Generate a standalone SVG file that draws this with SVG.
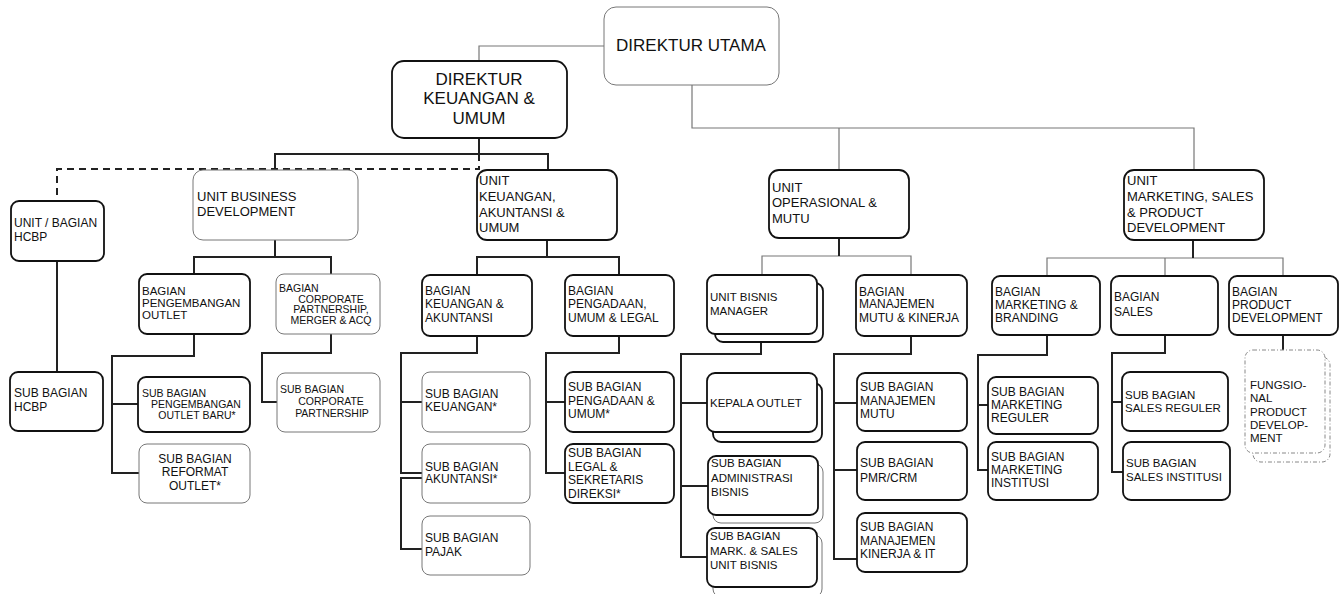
<svg xmlns="http://www.w3.org/2000/svg" width="1340" height="594" viewBox="0 0 1340 594">
<style>
text{font-family:"Liberation Sans",Arial,sans-serif;fill:#111}
.b{fill:#fff;stroke:#111;stroke-width:1.8}
.g{fill:#fff;stroke:#777;stroke-width:1}
.d{fill:#fff;stroke:#888;stroke-width:1;stroke-dasharray:4,2,1,2}
.t{fill:none;stroke:#222;stroke-width:2}
.th{fill:none;stroke:#777;stroke-width:1.2}
.ds{fill:none;stroke:#222;stroke-width:2;stroke-dasharray:7,5}
.s17{font-size:17px}.s13{font-size:13px}.s135{font-size:13.5px}.s12{font-size:12px}.s115{font-size:11.5px}.s105{font-size:10.5px}
.c{text-anchor:middle}
</style>
<rect width="1340" height="594" fill="#fff"/>
<g id="connectors">
<path class="th" d="M604,46 H479 V61"/>
<path class="th" d="M692,85 V128 H1194 V170 M839,128 V170"/>
<path class="th" d="M762,275 V256 H911 V275"/>
<path class="th" d="M1047,276 V258 H1283 V276 M1165,258 V276"/>
<path class="t" d="M479,138 V154 M275,170 V154 H548 V170"/>
<path class="ds" d="M479,154 V169 H57 V201"/>
<path class="t" d="M57,261 V372"/>
<path class="t" d="M275,240 V257 M194,274 V257 H331 V274"/>
<path class="t" d="M194,334 V356 H112 V473 H139 M112,404 H138"/>
<path class="t" d="M331,334 V353 H262 V402 H277"/>
<path class="t" d="M547,240 V257 M477,275 V257 H619 V275"/>
<path class="t" d="M477,336 V353 H401 V473 H422 M401,402 H422 M422,478 H401 V549 H422"/>
<path class="t" d="M619,336 V353 H546 V473 H565 M546,402 H565"/>
<path class="t" d="M839,238 V256"/>
<path class="t" d="M761,342 V354 H681 V557 H707 M681,403 H707 M681,486 H708"/>
<path class="t" d="M911,336 V354 H834 V559 H857 M834,403 H857 M834,470 H857"/>
<path class="t" d="M1193,240 V258"/>
<path class="t" d="M1047,335 V355 H978 V470 H988 M978,405 H988"/>
<path class="t" d="M1165,335 V353 H1112 V472 H1123 M1112,402 H1122"/>
<path class="t" d="M1283,335 V350"/>
</g>
<g id="direktur-utama"><rect class="g" x="604" y="7" width="175" height="78" rx="12"/><text class="s17 c" x="691" y="51">DIREKTUR UTAMA</text></g>
<g id="direktur-keuangan"><rect class="b" x="392" y="61" width="175" height="77" rx="12"/><text class="s17 c" x="479"><tspan x="479" y="85">DIREKTUR</tspan><tspan x="479" y="104">KEUANGAN &amp;</tspan><tspan x="479" y="124">UMUM</tspan></text></g>
<g id="hcbp"><rect class="b" x="11" y="201" width="93" height="60" rx="8"/><text class="s12"><tspan x="14" y="227">UNIT / BAGIAN</tspan><tspan x="14" y="241">HCBP</tspan></text></g>
<g id="unit-bd"><rect class="g" x="193" y="170" width="165" height="70" rx="10"/><text class="s13"><tspan x="197" y="201">UNIT BUSINESS</tspan><tspan x="197" y="216">DEVELOPMENT</tspan></text></g>
<g id="unit-keu"><rect class="b" x="477" y="170" width="140" height="70" rx="10"/><text class="s13"><tspan x="479" y="185">UNIT</tspan><tspan x="479" y="201">KEUANGAN,</tspan><tspan x="479" y="217">AKUNTANSI &amp;</tspan><tspan x="479" y="232">UMUM</tspan></text></g>
<g id="unit-ops"><rect class="b" x="769" y="170" width="140" height="68" rx="10"/><text class="s13"><tspan x="772" y="192">UNIT</tspan><tspan x="772" y="207">OPERASIONAL &amp;</tspan><tspan x="772" y="223">MUTU</tspan></text></g>
<g id="unit-mkt"><rect class="b" x="1124" y="170" width="140" height="70" rx="10"/><text class="s13"><tspan x="1127" y="185">UNIT</tspan><tspan x="1127" y="201">MARKETING, SALES</tspan><tspan x="1127" y="217">&amp; PRODUCT</tspan><tspan x="1127" y="232">DEVELOPMENT</tspan></text></g>
<g id="sub-hcbp"><rect class="b" x="10" y="372" width="93" height="59" rx="8"/><text class="s12"><tspan x="14" y="397">SUB BAGIAN</tspan><tspan x="14" y="411">HCBP</tspan></text></g>
<g id="bag-peng-outlet"><rect class="b" x="139" y="274" width="111" height="60" rx="8"/><text class="s115"><tspan x="142" y="295">BAGIAN</tspan><tspan x="142" y="307">PENGEMBANGAN</tspan><tspan x="142" y="319">OUTLET</tspan></text></g>
<g id="bag-corp"><rect class="g" x="276" y="274" width="104" height="60" rx="8"/><text class="s105"><tspan x="279" y="292">BAGIAN</tspan><tspan class="c" x="331" y="303">CORPORATE</tspan><tspan class="c" x="331" y="313">PARTNERSHIP,</tspan><tspan class="c" x="331" y="324">MERGER &amp; ACQ</tspan></text></g>
<g id="sub-outlet-baru"><rect class="b" x="138" y="377" width="112" height="55" rx="8"/><text class="s105"><tspan x="142" y="397">SUB BAGIAN</tspan><tspan class="c" x="196" y="408">PENGEMBANGAN</tspan><tspan class="c" x="197" y="419">OUTLET BARU*</tspan></text></g>
<g id="sub-reformat"><rect class="g" x="139" y="444" width="111" height="59" rx="8"/><text class="s12 c"><tspan x="195" y="463">SUB BAGIAN</tspan><tspan x="195" y="476">REFORMAT</tspan><tspan x="195" y="490">OUTLET*</tspan></text></g>
<g id="sub-corp"><rect class="g" x="277" y="373" width="103" height="59" rx="8"/><text class="s105"><tspan x="280" y="393">SUB BAGIAN</tspan><tspan class="c" x="331" y="405">CORPORATE</tspan><tspan class="c" x="332" y="417">PARTNERSHIP</tspan></text></g>
<g id="bag-keu-ak"><rect class="b" x="422" y="275" width="110" height="61" rx="8"/><text class="s12"><tspan x="425" y="295">BAGIAN</tspan><tspan x="425" y="308">KEUANGAN &amp;</tspan><tspan x="425" y="322">AKUNTANSI</tspan></text></g>
<g id="bag-pengadaan"><rect class="b" x="565" y="275" width="109" height="61" rx="8"/><text class="s12"><tspan x="568" y="295">BAGIAN</tspan><tspan x="568" y="308">PENGADAAN,</tspan><tspan x="568" y="322">UMUM &amp; LEGAL</tspan></text></g>
<g id="sub-keu"><rect class="g" x="422" y="372" width="108" height="60" rx="8"/><text class="s12"><tspan x="425" y="398">SUB BAGIAN</tspan><tspan x="425" y="411">KEUANGAN*</tspan></text></g>
<g id="sub-ak"><rect class="g" x="422" y="444" width="108" height="59" rx="8"/><text class="s12"><tspan x="425" y="471">SUB BAGIAN</tspan><tspan x="425" y="483">AKUNTANSI*</tspan></text></g>
<g id="sub-pajak"><rect class="g" x="422" y="516" width="108" height="59" rx="8"/><text class="s12"><tspan x="425" y="542">SUB BAGIAN</tspan><tspan x="425" y="556">PAJAK</tspan></text></g>
<g id="sub-pengadaan"><rect class="b" x="565" y="372" width="109" height="60" rx="8"/><text class="s12"><tspan x="568" y="391">SUB BAGIAN</tspan><tspan x="568" y="405">PENGADAAN &amp;</tspan><tspan x="568" y="418">UMUM*</tspan></text></g>
<g id="sub-legal"><rect class="b" x="565" y="444" width="109" height="59" rx="8"/><text class="s12"><tspan x="568" y="457">SUB BAGIAN</tspan><tspan x="568" y="471">LEGAL &amp;</tspan><tspan x="568" y="484">SEKRETARIS</tspan><tspan x="568" y="498">DIREKSI*</tspan></text></g>
<g id="ubm"><rect class="b" x="715" y="283" width="108" height="59" rx="8"/><rect class="b" x="707" y="275" width="110" height="59" rx="8"/><text class="s115"><tspan x="710" y="301">UNIT BISNIS</tspan><tspan x="710" y="315">MANAGER</tspan></text></g>
<g id="kepala-outlet"><rect class="b" x="713" y="383" width="109" height="59" rx="8"/><rect class="b" x="707" y="373" width="110" height="59" rx="8"/><text class="s115" x="710" y="407">KEPALA OUTLET</text></g>
<g id="sub-admin"><rect class="g" x="713" y="464" width="110" height="59" rx="8"/><rect class="b" x="708" y="456" width="110" height="59" rx="8"/><text class="s115"><tspan x="711" y="467">SUB BAGIAN</tspan><tspan x="711" y="482">ADMINISTRASI</tspan><tspan x="711" y="496">BISNIS</tspan></text></g>
<g id="sub-mark-sales"><rect class="g" x="713" y="535" width="109" height="62" rx="8"/><rect class="b" x="707" y="528" width="110" height="59" rx="8"/><text class="s115"><tspan x="710" y="540">SUB BAGIAN</tspan><tspan x="710" y="555">MARK. &amp; SALES</tspan><tspan x="710" y="569">UNIT BISNIS</tspan></text></g>
<g id="bag-mutu"><rect class="b" x="856" y="275" width="111" height="61" rx="8"/><text class="s12"><tspan x="859" y="296">BAGIAN</tspan><tspan x="859" y="308">MANAJEMEN</tspan><tspan x="859" y="322">MUTU &amp; KINERJA</tspan></text></g>
<g id="sub-mutu"><rect class="b" x="857" y="373" width="110" height="58" rx="8"/><text class="s12"><tspan x="860" y="391">SUB BAGIAN</tspan><tspan x="860" y="405">MANAJEMEN</tspan><tspan x="860" y="418">MUTU</tspan></text></g>
<g id="sub-pmr"><rect class="b" x="857" y="442" width="110" height="58" rx="8"/><text class="s12"><tspan x="860" y="467">SUB BAGIAN</tspan><tspan x="860" y="482">PMR/CRM</tspan></text></g>
<g id="sub-kinerja"><rect class="b" x="857" y="513" width="110" height="59" rx="8"/><text class="s12"><tspan x="860" y="531">SUB BAGIAN</tspan><tspan x="860" y="545">MANAJEMEN</tspan><tspan x="860" y="558">KINERJA &amp; IT</tspan></text></g>
<g id="bag-marketing"><rect class="b" x="992" y="276" width="108" height="59" rx="8"/><text class="s12"><tspan x="995" y="296">BAGIAN</tspan><tspan x="995" y="309">MARKETING &amp;</tspan><tspan x="995" y="322">BRANDING</tspan></text></g>
<g id="bag-sales"><rect class="b" x="1111" y="276" width="107" height="59" rx="8"/><text class="s12"><tspan x="1114" y="301">BAGIAN</tspan><tspan x="1114" y="316">SALES</tspan></text></g>
<g id="bag-product"><rect class="b" x="1229" y="276" width="109" height="59" rx="8"/><text class="s12"><tspan x="1232" y="296">BAGIAN</tspan><tspan x="1232" y="309">PRODUCT</tspan><tspan x="1232" y="322">DEVELOPMENT</tspan></text></g>
<g id="sub-mkt-reg"><rect class="b" x="988" y="377" width="110" height="57" rx="8"/><text class="s12"><tspan x="991" y="396">SUB BAGIAN</tspan><tspan x="991" y="409">MARKETING</tspan><tspan x="991" y="422">REGULER</tspan></text></g>
<g id="sub-mkt-inst"><rect class="b" x="988" y="442" width="110" height="58" rx="8"/><text class="s12"><tspan x="991" y="461">SUB BAGIAN</tspan><tspan x="991" y="474">MARKETING</tspan><tspan x="991" y="487">INSTITUSI</tspan></text></g>
<g id="sub-sales-reg"><rect class="b" x="1122" y="372" width="106" height="59" rx="8"/><text class="s115"><tspan x="1125" y="399">SUB BAGIAN</tspan><tspan x="1125" y="412">SALES REGULER</tspan></text></g>
<g id="sub-sales-inst"><rect class="b" x="1123" y="442" width="107" height="58" rx="8"/><text class="s115"><tspan x="1126" y="467">SUB BAGIAN</tspan><tspan x="1126" y="481">SALES INSTITUSI</tspan></text></g>
<g id="fungsional"><rect class="d" x="1253" y="357" width="77" height="105" rx="8"/><rect class="d" x="1245" y="350" width="80" height="103" rx="8"/><text class="s115"><tspan x="1250" y="389">FUNGSIO-</tspan><tspan x="1250" y="402">NAL</tspan><tspan x="1250" y="416">PRODUCT</tspan><tspan x="1250" y="429">DEVELOP-</tspan><tspan x="1250" y="442">MENT</tspan></text></g>
</svg>
